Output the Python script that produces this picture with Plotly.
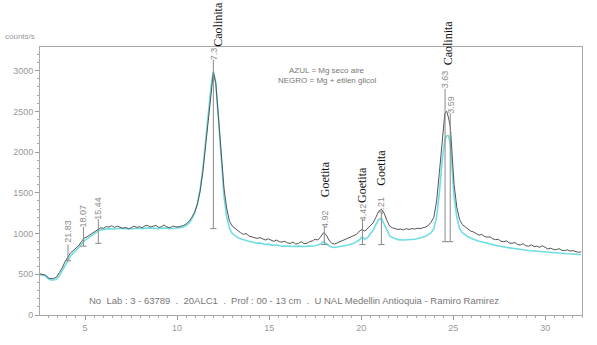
import plotly.graph_objects as go

# ---- data: NEGRO = Mg + etilen glicol (dark line) ----
x_negro = [2.55, 2.7, 2.85, 3.0, 3.15, 3.3, 3.45, 3.6, 3.75, 3.9, 4.05, 4.2, 4.35, 4.5, 4.65, 4.8, 4.95,
           5.1, 5.25, 5.4, 5.55, 5.7, 5.85, 6.0, 6.15, 6.3, 6.45, 6.6, 6.75, 6.9, 7.05, 7.2, 7.35, 7.5,
           7.65, 7.8, 7.95, 8.1, 8.25, 8.4, 8.55, 8.7, 8.85, 9.0, 9.15, 9.3, 9.45, 9.6, 9.75, 9.9, 10.05,
           10.2, 10.35, 10.5, 10.65, 10.8, 10.95, 11.1, 11.25, 11.4, 11.55, 11.7, 11.85, 11.97, 12.1,
           12.25, 12.4, 12.55, 12.7, 12.85, 13.0, 13.15, 13.3, 13.45, 13.6, 13.75, 13.9, 14.05, 14.2,
           14.35, 14.5, 14.65, 14.8, 14.95, 15.1, 15.25, 15.4, 15.55, 15.7, 15.85, 16.0, 16.15, 16.3,
           16.45, 16.6, 16.75, 16.9, 17.05, 17.2, 17.35, 17.5, 17.65, 17.8, 17.95, 18.1, 18.25, 18.4,
           18.55, 18.7, 18.85, 19.0, 19.15, 19.3, 19.45, 19.6, 19.75, 19.9, 20.05, 20.2, 20.35, 20.5,
           20.65, 20.8, 20.95, 21.1, 21.25, 21.4, 21.55, 21.7, 21.85, 22.0, 22.15, 22.3, 22.45, 22.6,
           22.75, 22.9, 23.05, 23.2, 23.35, 23.5, 23.65, 23.8, 23.95, 24.1, 24.25, 24.4, 24.55, 24.65,
           24.75, 24.85, 24.95, 25.05, 25.2, 25.35, 25.5, 25.65, 25.8, 25.95, 26.1, 26.25, 26.4, 26.55,
           26.7, 26.85, 27.0, 27.15, 27.3, 27.45, 27.6, 27.75, 27.9, 28.05, 28.2, 28.35, 28.5, 28.65,
           28.8, 28.95, 29.1, 29.25, 29.4, 29.55, 29.7, 29.85, 30.0, 30.15, 30.3, 30.45, 30.6, 30.75,
           30.9, 31.05, 31.2, 31.35, 31.5, 31.65, 31.8, 31.95]
y_negro = [505, 500, 490, 455, 445, 450, 465, 520, 575, 650, 705, 760, 790, 815, 850, 900, 945,
           960, 985, 1000, 1030, 1050, 1070, 1065, 1085, 1080, 1095, 1075, 1090, 1080, 1065, 1075, 1060, 1070,
           1090, 1075, 1085, 1070, 1095, 1100, 1080, 1090, 1100, 1075, 1085, 1105, 1080, 1070, 1090, 1085, 1080,
           1090, 1100, 1120, 1150, 1200, 1260, 1360, 1520, 1760, 2100, 2450, 2780, 2980, 2850,
           2450, 1950, 1550, 1300, 1150, 1090, 1060, 1030, 1010, 990, 1000, 970, 960, 955,
           940, 950, 930, 920, 935, 915, 905, 920, 900, 895, 905, 885, 880, 895,
           870, 880, 900, 875, 880, 900, 910, 930, 920, 960, 1010, 985, 920, 880,
           870, 885, 900, 920, 935, 950, 960, 975, 990, 1030, 1050, 1030, 1060, 1090,
           1130, 1200, 1270, 1300, 1250, 1160, 1090, 1070, 1060, 1050, 1055, 1045, 1060, 1050,
           1060, 1055, 1065, 1060, 1070, 1080, 1100, 1140, 1200, 1400, 1750, 2150, 2480, 2500,
           2420, 2300, 1950, 1600, 1320, 1170, 1110, 1080, 1050, 1030, 1020, 1000, 980, 990,
           965, 955, 960, 935, 925, 930, 905, 900, 910, 885, 880, 890, 865, 860,
           875, 850, 845, 860, 840, 845, 830, 850, 825, 810, 820, 805, 800, 815,
           795, 790, 800, 785, 790, 780, 770, 775]

# ---- data: AZUL = Mg seco aire (cyan line) ----
x_azul = [2.55, 2.7, 2.85, 3.0, 3.15, 3.3, 3.45, 3.6, 3.75, 3.9, 4.05, 4.2, 4.35, 4.5, 4.65, 4.8, 4.95,
          5.1, 5.25, 5.4, 5.55, 5.7, 5.85, 6.0, 6.3, 6.6, 6.9, 7.2, 7.5, 7.8, 8.1, 8.4, 8.7, 9.0, 9.3,
          9.6, 9.9, 10.2, 10.35, 10.5, 10.65, 10.8, 10.95, 11.1, 11.25, 11.4, 11.55, 11.7, 11.85, 11.97,
          12.1, 12.25, 12.4, 12.55, 12.7, 12.85, 13.0, 13.15, 13.3, 13.45, 13.6, 13.75, 13.9, 14.05,
          14.2, 14.35, 14.5, 14.65, 14.8, 14.95, 15.1, 15.25, 15.4, 15.55, 15.7, 16.0, 16.3, 16.6, 16.9,
          17.2, 17.5, 17.8, 17.95, 18.1, 18.25, 18.4, 18.55, 18.7, 19.0, 19.3, 19.6, 19.9, 20.05, 20.2,
          20.35, 20.5, 20.65, 20.8, 20.95, 21.1, 21.25, 21.4, 21.55, 21.7, 21.85, 22.0, 22.3, 22.6,
          22.9, 23.2, 23.5, 23.8, 23.95, 24.1, 24.25, 24.4, 24.55, 24.65, 24.75, 24.85, 24.95, 25.05,
          25.2, 25.35, 25.5, 25.65, 25.8, 26.1, 26.4, 26.7, 27.0, 27.3, 27.6, 27.9, 28.2, 28.5, 28.8,
          29.1, 29.4, 29.7, 30.0, 30.3, 30.6, 30.9, 31.2, 31.5, 31.95]
y_azul = [495, 490, 480, 445, 430, 430, 440, 480, 540, 610, 660, 720, 760, 790, 825, 870, 910,
          935, 960, 985, 1010, 1030, 1045, 1050, 1060, 1055, 1065, 1060, 1055, 1065, 1060, 1070, 1065, 1060, 1070,
          1060, 1065, 1070, 1080, 1100, 1130, 1180, 1250, 1360, 1540, 1800, 2150, 2500, 2820, 2990,
          2850, 2400, 1880, 1450, 1200, 1060, 1000, 970, 950, 935, 920, 915, 905, 895,
          890, 880, 885, 870, 865, 870, 860, 855, 860, 850, 845, 845, 840, 845, 840,
          845, 850, 870, 900, 880, 850, 835, 830, 835, 845, 860, 880, 920, 960, 930,
          950, 990, 1040, 1110, 1170, 1190, 1120, 1030, 970, 950, 935, 925, 920, 925,
          930, 945, 965, 1010, 1060, 1200, 1500, 1900, 2150, 2200, 2200, 2100, 1800, 1450,
          1200, 1060, 1010, 985, 960, 930, 905, 890, 870, 855, 840, 828, 818, 808, 800,
          792, 785, 780, 775, 768, 762, 757, 752, 748, 742]

# ---- peak markers ----
peak_x = [4.07, 4.91, 5.72, 11.97, 24.56, 24.84, 18.0, 20.07, 21.1]
peak_d = ["21.83", "18.07", "15.44", "7.3", "3.63", "3.59", "4.92", "4.42", "4.21"]
peak_bottom = [665, 845, 880, 1060, 900, 900, 865, 865, 865]
peak_top = [867, 1080, 1178, 3134, 2775, 2477, 1094, 1177, 1261]
label_y = [1034, 1213, 1309, 3206, 2896, 2584, 1183, 1267, 1350]

# mineral names: Caolinita labels sit above the plot box (paper coords), Goetita in data coords
caol_x_paper = [0.328, 0.752]
caol_y_paper = [1.086, 1.016]
goet_x = [18.04, 20.04, 21.03]
goet_y = [1667, 1595, 1810]

legend_lines = ["AZUL = Mg seco aire", "NEGRO = Mg + etilen glicol"]
legend_y = [2997, 2880]
footer = ("No\u00a0\u00a0Lab : 3 - 63789\u00a0\u00a0.\u00a0\u00a020ALC1\u00a0\u00a0.\u00a0\u00a0Prof : 00 - 13 cm"
          "\u00a0\u00a0.\u00a0\u00a0U NAL Medellin Antioquia - Ramiro Ramirez")

GRAY = "#8a8a8a"

fig = go.Figure()
fig.add_trace(go.Scatter(x=x_azul, y=y_azul, mode="lines",
                         line=dict(color="#6fdde3", width=1.6), showlegend=False))
fig.add_trace(go.Scatter(x=x_negro, y=y_negro, mode="lines",
                         line=dict(color="#555555", width=1), showlegend=False))

shapes = []
for px_, yb, yt in zip(peak_x, peak_bottom, peak_top):
    shapes.append(dict(type="line", xref="x", yref="y", x0=px_, x1=px_, y0=yb, y1=yt,
                       line=dict(color=GRAY, width=1)))
    shapes.append(dict(type="line", xref="x", yref="y", x0=px_ - 0.17, x1=px_ + 0.17, y0=yb, y1=yb,
                       line=dict(color=GRAY, width=1)))

annotations = []
for px_, lab, ly in zip(peak_x, peak_d, label_y):
    annotations.append(dict(x=px_, y=ly, xref="x", yref="y", text=lab, textangle=-90,
                            showarrow=False, font=dict(family="Liberation Sans", size=9, color=GRAY),
                            xanchor="center", yanchor="middle"))
serif = dict(family="Liberation Serif", size=12, color="#111111")
for cx, cy in zip(caol_x_paper, caol_y_paper):
    annotations.append(dict(x=cx, y=cy, xref="paper", yref="paper", text="Caolinita", textangle=-90,
                            showarrow=False, font=serif, xanchor="center", yanchor="middle"))
for gx, gy in zip(goet_x, goet_y):
    annotations.append(dict(x=gx, y=gy, xref="x", yref="y", text="Goetita", textangle=-90,
                            showarrow=False, font=serif, xanchor="center", yanchor="middle"))
for txt, ly in zip(legend_lines, legend_y):
    annotations.append(dict(x=18.15, y=ly, xref="x", yref="y", text=txt, showarrow=False,
                            font=dict(family="Liberation Sans", size=8, color="#777777")))
annotations.append(dict(x=16.33, y=175, xref="x", yref="y", text=footer, showarrow=False,
                        font=dict(family="Liberation Sans", size=9.5, color="#777777")))
annotations.append(dict(x=-0.068, y=1.04, xref="paper", yref="paper", text="counts/s",
                        xanchor="left", yanchor="middle", showarrow=False,
                        font=dict(family="Liberation Sans", size=8, color="#999999")))

fig.update_layout(
    width=597, height=345,
    margin=dict(l=40, r=15, t=47, b=24),
    paper_bgcolor="white", plot_bgcolor="white",
    shapes=shapes, annotations=annotations,
    showlegend=False,
)
fig.update_xaxes(range=[2.55, 32.0], tickvals=[5, 10, 15, 20, 25, 30], ticks="outside", ticklen=4,
                 tickcolor="#999999", showgrid=False, zeroline=False,
                 showline=True, linecolor="#a8a8a8", linewidth=1, mirror=True,
                 tickfont=dict(family="Liberation Sans", size=9, color="#999999"),
                 minor=dict(dtick=0.5, tick0=0, ticks="outside", ticklen=2, tickcolor="#aaaaaa"))
fig.update_yaxes(range=[0, 3290], tickvals=[0, 500, 1000, 1500, 2000, 2500, 3000], ticks="outside",
                 ticklen=4, tickcolor="#999999", showgrid=False, zeroline=False,
                 showline=True, linecolor="#a8a8a8", linewidth=1, mirror=True,
                 tickfont=dict(family="Liberation Sans", size=9, color="#999999"),
                 minor=dict(dtick=100, tick0=0, ticks="outside", ticklen=2, tickcolor="#aaaaaa"))

fig.write_html("out.html")
